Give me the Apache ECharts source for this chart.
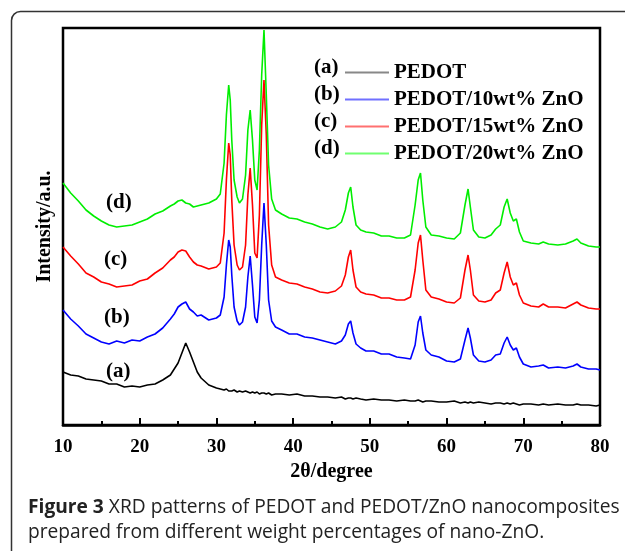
<!DOCTYPE html>
<html>
<head>
<meta charset="utf-8">
<script src="https://cdn.jsdelivr.net/npm/echarts@6/dist/echarts.min.js"></script>
<style>
  html, body { margin: 0; padding: 0; background: #fff; }
  #chart { width: 625px; height: 551px; }
</style>
</head>
<body>
<div id="chart"></div>
<script>
// 2θ positions (degree)
const theta = [10,11,12,13,14,15,16,17,18,19,20,21,22,23,24,24.5,25,25.5,26,26.5,27,27.5,28,29,30,30.5,31,31.3,31.6,31.8,32,32.3,32.7,33,33.4,33.8,34.1,34.4,34.7,35,35.3,35.6,35.9,36.2,36.5,36.8,37.2,37.7,38.5,39.5,40.5,41.5,42.5,43.5,44.5,45.5,46.3,46.8,47.2,47.5,47.8,48.2,48.8,49.5,50.5,51.5,52.5,53.5,54.5,55.3,55.9,56.3,56.6,56.9,57.3,58,59,60,61,61.8,62.4,62.8,63.1,63.5,64.2,65,65.8,66.4,67,67.5,67.9,68.3,68.7,69.1,69.5,70,71,72,72.6,73.3,74.5,75.5,76.5,77,77.5,78.5,79.5,80];

// intensities (a.u., curves stacked with offsets as in the figure)
const pedot = [53,50,49,46,45,44,41,41,38,39,38,40,41,45,50,56,62,72,82,73,63,53,47,40,37,36,35,36,34,35,34,35,33,34,33,34,33,32,33,32,33,31,32,32,31,32,30,31,31,30,31,29,29,28,28,27,28,26,27,27,26,27,26,25,26,25,25,24,25,24,24,25,24,23,24,24,23,23,24,22,23,22,23,22,23,22,21,22,22,21,22,21,22,21,20,21,21,20,21,20,21,20,20,21,20,20,19,20];
const zno10 = [115,106,99,91,87,83,81,84,82,85,84,88,91,97,106,111,118,121,123,116,113,109,110,105,107,110,128,160,185,178,150,118,104,100,103,118,148,169,140,108,102,125,180,222,180,125,104,98,95,91,91,88,87,85,83,81,84,90,101,104,92,81,77,74,74,71,71,68,67,66,80,103,109,92,75,70,68,64,63,66,85,97,87,70,64,63,65,70,71,82,88,80,75,77,68,61,58,59,60,57,58,57,59,61,58,56,56,55];
const zno15 = [178,169,161,152,148,143,141,138,139,140,144,146,152,157,165,168,173,175,174,168,163,160,159,156,158,162,192,245,282,270,225,180,160,155,158,180,230,257,220,172,167,210,300,345,290,200,160,148,145,142,141,138,136,133,132,134,139,150,168,175,155,138,133,131,130,127,127,125,125,128,155,182,190,165,135,128,126,123,122,127,155,170,155,130,124,123,125,132,135,152,163,148,140,142,130,122,119,118,121,118,118,117,121,123,120,117,116,116];
const zno20 = [242,232,224,215,209,204,200,198,199,200,203,206,211,214,219,221,224,225,222,221,218,219,220,222,226,231,262,310,340,325,285,245,228,222,226,250,295,315,285,245,235,275,350,395,330,260,226,215,211,207,206,203,201,198,196,198,203,215,232,238,218,200,195,193,192,189,189,187,187,190,220,245,252,225,198,190,189,187,186,192,220,236,218,195,188,187,190,196,200,218,226,212,204,206,193,184,182,181,183,181,180,181,184,186,182,179,178,178];

const names = ["PEDOT", "PEDOT/10wt% ZnO", "PEDOT/15wt% ZnO", "PEDOT/20wt% ZnO"];
const tags = ["(a)", "(b)", "(c)", "(d)"];
const colors = ["#000000", "#0000ff", "#ff0000", "#00ee00"];
const legendColors = ["#888888", "#7070ff", "#ff7070", "#70ff70"];
const xTicks = [10, 20, 30, 40, 50, 60, 70, 80];

const serif = "Liberation Serif";
const chart = echarts.init(document.getElementById("chart"));

const pair = (vals) => theta.map((t, i) => [t, vals[i]]);
const seriesVals = [pedot, zno10, zno15, zno20];

const option = {
  animation: false,
  backgroundColor: "#fff",
  grid: {
    left: 63, top: 28, right: 25, bottom: 126,
    show: true, borderColor: "#000", borderWidth: 2.5,
  },
  legend: {
    orient: "vertical",
    left: 340, top: 57,
    itemWidth: 44, itemHeight: 2, itemGap: 6,
    icon: "rect",
    textStyle: { fontFamily: serif, fontWeight: "bold", fontSize: 21, color: "#000", lineHeight: 21 },
    data: names.map((n, i) => ({ name: n, itemStyle: { color: legendColors[i] } })),
  },
  xAxis: {
    type: "value",
    min: xTicks[0], max: xTicks[xTicks.length - 1], interval: 10,
    name: "2θ/degree",
    nameLocation: "middle",
    nameGap: 36,
    nameTextStyle: { fontFamily: serif, fontWeight: "bold", fontSize: 20, color: "#000" },
    axisLine: { lineStyle: { color: "#000", width: 2.5 } },
    axisTick: { inside: true, length: 7, lineStyle: { color: "#000", width: 2 } },
    minorTick: { show: true, splitNumber: 2, length: 4, lineStyle: { color: "#000", width: 2 } },
    axisLabel: { fontFamily: serif, fontWeight: "bold", fontSize: 19, color: "#000", margin: 13 },
    splitLine: { show: false },
  },
  yAxis: {
    type: "value",
    min: 0, max: 397,
    name: "Intensity/a.u.",
    nameLocation: "middle",
    nameGap: 8,
    nameTextStyle: { fontFamily: serif, fontWeight: "bold", fontSize: 20, color: "#000" },
    axisLine: { show: false },
    axisTick: { show: false },
    axisLabel: { show: false },
    splitLine: { show: false },
  },
  series: seriesVals.map((vals, i) => ({
    name: names[i],
    type: "line",
    data: pair(vals),
    showSymbol: false,
    lineStyle: { color: colors[i], width: 1.6 },
    itemStyle: { color: colors[i] },
  })),
  graphic: [
    {
      type: "rect", silent: true,
      shape: { x: 11.5, y: 11.5, width: 700, height: 600, r: 9 },
      style: { fill: "none", stroke: "#333", lineWidth: 1.5 },
    },
    // legend prefixes
    ...tags.map((t, i) => ({
      type: "text", left: 314, top: 57 + i * 27,
      style: { text: t, fontFamily: serif, fontWeight: "bold", fontSize: 21, fill: "#000" },
    })),
    // curve tags
    ...[[106, 361], [104, 307], [104, 249], [106, 192]].map((p, i) => ({
      type: "text", left: p[0], top: p[1],
      style: { text: tags[i], fontFamily: serif, fontWeight: "bold", fontSize: 21, fill: "#000" },
    })),
    {
      type: "text", left: 28, top: 495,
      style: {
        text: "{b|Figure 3} XRD patterns of PEDOT and PEDOT/ZnO nanocomposites\nprepared from different weight percentages of nano-ZnO.",
        fontFamily: "Open Sans", fontSize: 19.2, fill: "#222", lineHeight: 25,
        rich: { b: { fontFamily: "Open Sans", fontWeight: "bold", fontSize: 19.2, fill: "#222" } },
      },
    },
  ],
};

chart.setOption(option);
window.addEventListener("resize", () => chart.resize());
</script>
</body>
</html>
